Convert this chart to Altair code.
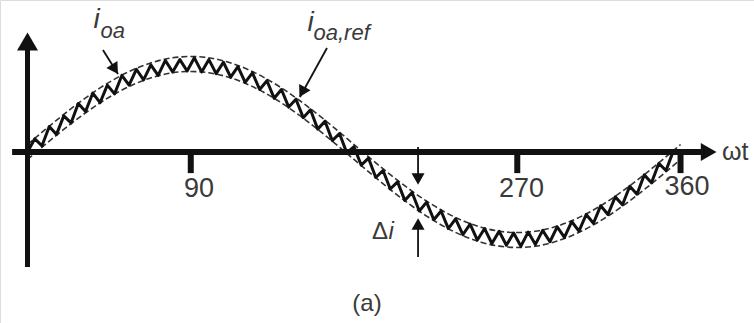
import altair as alt
import pandas as pd

# ---------------- data ----------------
REF_DEG = list(range(0, 361, 10))
REF_VAL = [0.0, 0.174, 0.342, 0.5, 0.643, 0.766, 0.866, 0.94, 0.985, 1.0,
           0.985, 0.94, 0.866, 0.766, 0.643, 0.5, 0.342, 0.174, 0.0,
           -0.174, -0.342, -0.5, -0.643, -0.766, -0.866, -0.94, -0.985, -1.0,
           -0.985, -0.94, -0.866, -0.766, -0.643, -0.5, -0.342, -0.174, 0.0]
BAND = 0.085

IOA_DEG = list(range(0, 361, 4))
IOA_VAL = [0.00, 0.15, 0.07, 0.29, 0.20, 0.41, 0.33, 0.55, 0.46, 0.67,
           0.56, 0.76, 0.66, 0.87, 0.76, 0.94, 0.82, 0.99, 0.87, 1.04,
           0.91, 1.05, 0.92, 1.07, 0.91, 1.05, 0.89, 1.02, 0.85, 0.97,
           0.79, 0.90, 0.71, 0.81, 0.61, 0.71, 0.51, 0.60, 0.39, 0.48,
           0.26, 0.35, 0.13, 0.21, -0.01, 0.06, -0.15, -0.07, -0.29, -0.21,
           -0.42, -0.34, -0.55, -0.46, -0.67, -0.57, -0.77, -0.67, -0.87, -0.76,
           -0.94, -0.82, -1.00, -0.87, -1.04, -0.90, -1.06, -0.92, -1.07, -0.91,
           -1.05, -0.89, -1.02, -0.85, -0.97, -0.79, -0.90, -0.71, -0.81, -0.61,
           -0.71, -0.51, -0.60, -0.39, -0.48, -0.26, -0.35, -0.13, -0.21, 0.01,
           0.00]

TICK_DEG = [90, 270, 360]
TICK_LABELS = ["90", "270", "360"]
TICK_LABEL_DEG = [94.5, 272.3, 363.6]
TICK_LABEL_V = [-0.426, -0.426, -0.40]

# annotation arrows (data units)
ARROW_X1 = [41.6, 165.1, 215.3, 215.3]
ARROW_Y1 = [1.159, 1.182, 0.057, -1.193]
ARROW_X2 = [49.9, 150.2, 215.3, 215.3]
ARROW_Y2 = [0.886, 0.625, -0.33, -0.79]
HEAD_X = [48.2, 151.4, 215.3, 215.3]
HEAD_Y = [0.94, 0.68, -0.307, -0.818]
HEAD_ANGLE = [147.5, 208.9, 180, 0]

# ---------------- scales ----------------
xs = alt.Scale(domain=[-15.16, 400.5], nice=False, zero=False)
ys = alt.Scale(domain=[-1.943, 1.727], nice=False, zero=False)
FONT = "Liberation Sans"
TXT = "#3a3a3a"


def X(f):
    return alt.X(f, type="quantitative", scale=xs, axis=None)


def Y(f):
    return alt.Y(f, type="quantitative", scale=ys, axis=None)


ref_df = pd.DataFrame({"deg": REF_DEG, "ref": REF_VAL})
band = (
    alt.Chart(ref_df)
    .transform_calculate(upper=f"datum.ref + {BAND}", lower=f"datum.ref - {BAND}")
    .transform_fold(["upper", "lower"], as_=["edge", "val"])
    .mark_line(color="#333333", strokeWidth=1.6, strokeDash=[6, 3], interpolate="monotone")
    .encode(x=X("deg"), y=Y("val"), detail="edge:N")
)

ioa_df = pd.DataFrame({"deg": IOA_DEG, "i": IOA_VAL})
ioa = alt.Chart(ioa_df).mark_line(color="#111111", strokeWidth=3.0, strokeJoin="round").encode(
    x=X("deg"), y=Y("i")
)

# axes
xaxis = alt.Chart(pd.DataFrame({"a": [-8.5], "b": [374.0], "y": [0.0]})).mark_rule(
    color="#111111", strokeWidth=6
).encode(x=X("a"), x2="b", y=Y("y"))
yaxis = alt.Chart(pd.DataFrame({"x": [0.0], "a": [-1.307], "b": [1.16]})).mark_rule(
    color="#111111", strokeWidth=5
).encode(x=X("x"), y=Y("a"), y2="b")
xarrow = alt.Chart(pd.DataFrame({"x": [375.5], "y": [0.0]})).mark_point(
    shape="triangle-right", filled=True, size=330, color="#111111", opacity=1
).encode(x=X("x"), y=Y("y"))
yarrow = alt.Chart(pd.DataFrame({"x": [0.0], "y": [1.255]})).mark_point(
    shape="triangle-up", filled=True, size=440, color="#111111", opacity=1
).encode(x=X("x"), y=Y("y"))

ticks = alt.Chart(pd.DataFrame({"x": TICK_DEG, "a": [0.0] * 3, "b": [-0.24] * 3})).mark_rule(
    color="#111111", strokeWidth=6
).encode(x=X("x"), y=Y("a"), y2="b")
tick_labels = alt.Chart(
    pd.DataFrame({"x": TICK_LABEL_DEG, "y": TICK_LABEL_V, "t": TICK_LABELS})
).mark_text(font=FONT, fontSize=27, color=TXT, baseline="middle", align="center").encode(
    x=X("x"), y=Y("y"), text="t:N"
)

arrows = alt.Chart(
    pd.DataFrame({"x1": ARROW_X1, "y1": ARROW_Y1, "x2": ARROW_X2, "y2": ARROW_Y2})
).mark_rule(color="#111111", strokeWidth=1.8).encode(x=X("x1"), y=Y("y1"), x2="x2", y2="y2")
heads = alt.Chart(
    pd.DataFrame({"x": HEAD_X, "y": HEAD_Y, "ang": HEAD_ANGLE})
).mark_point(shape="triangle-up", filled=True, size=170, color="#111111", opacity=1).encode(
    x=X("x"), y=Y("y"), angle=alt.Angle("ang:Q", scale=None)
)

# labels
def label(x, y, t, size, style="normal", align="left", baseline="alphabetic"):
    return alt.Chart(pd.DataFrame({"x": [x], "y": [y], "t": [t]})).mark_text(
        font=FONT, fontSize=size, fontStyle=style, color=TXT, align=align, baseline=baseline
    ).encode(x=X("x"), y=Y("y"), text="t:N")


lab_i1 = label((93.5 - 27.5) / 1.814, (152 - 28) / 88, "i", 28, "italic")
lab_s1 = label((100.5 - 27.5) / 1.814, (152 - 38) / 88, "oa", 22, "italic")
lab_i2 = label((307.5 - 27.5) / 1.814, (152 - 31) / 88, "i", 28, "italic")
lab_s2 = label((313.5 - 27.5) / 1.814, (152 - 40) / 88, "oa,ref", 22, "italic")
lab_wt = label((722 - 27.5) / 1.814, 0.0, "ωt", 25, "normal", "left", "middle")
lab_d = label((388 - 27.5) / 1.814, (152 - 239) / 88, "Δ", 24, "normal", "right")
lab_di = label((388.5 - 27.5) / 1.814, (152 - 239) / 88, "i", 24, "italic")
lab_a = label((367 - 27.5) / 1.814, (152 - 304) / 88, "(a)", 24, "normal", "center", "middle")

chart = alt.layer(
    band, ioa, xaxis, yaxis, xarrow, yarrow, ticks, tick_labels, arrows, heads,
    lab_i1, lab_s1, lab_i2, lab_s2, lab_wt, lab_d, lab_di, lab_a
).properties(
    width=754, height=323, padding=0, autosize=alt.AutoSizeParams(type="none")
).configure_view(stroke=None).configure(background="white")

chart.save("out.html", embed_options={"renderer": "svg", "actions": False})
